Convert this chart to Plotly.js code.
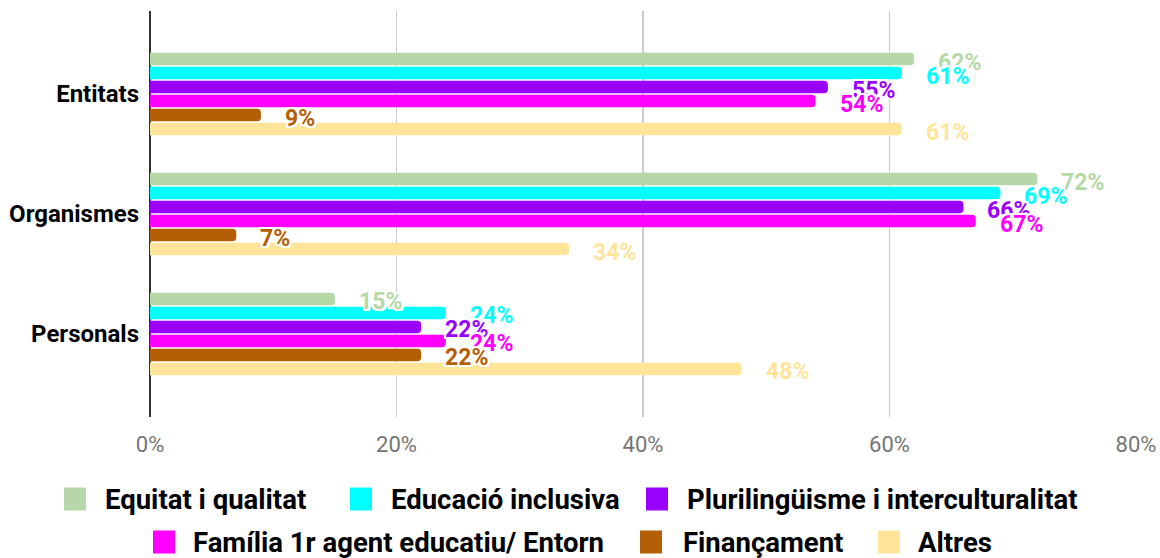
<!DOCTYPE html>
<html>
<head>
<meta charset="utf-8">
<script src="https://cdn.plot.ly/plotly-3.0.1.min.js"></script>
<style>
html,body{margin:0;padding:0;background:#fff;}
#chart{width:1160px;height:558px;}
</style>
</head>
<body>
<div id="chart"></div>
<script>
const categories = ['Entitats', 'Organismes', 'Personals'];
const seriesNames = ['Equitat i qualitat', 'Educació inclusiva', 'Plurilingüisme i interculturalitat',
  'Família 1r agent educatiu/ Entorn', 'Finançament', 'Altres'];
const equitat = [62, 72, 15];
const educacio = [61, 69, 24];
const plurilinguisme = [55, 66, 22];
const familia = [54, 67, 24];
const financament = [9, 7, 22];
const altres = [61, 34, 48];
const xTicks = [0, 20, 40, 60, 80];
const xTickLabels = ['0%', '20%', '40%', '60%', '80%'];

const seriesValues = [equitat, educacio, plurilinguisme, familia, financament, altres];
const colors = ['#b6d7a8', '#00ffff', '#9900ff', '#ff00ff', '#b45f06', '#ffe599'];

// plot area in pixels (for placing the hand-made legend)
const W = 1160, H = 558;
const M = {l: 150, r: 24, t: 11, b: 141};
const plotW = W - M.l - M.r, plotH = H - M.t - M.b;
const px2paperX = px => (px - M.l) / plotW;
const py2paperY = py => (H - M.b - py) / plotH;

const traces = seriesValues.map((vals, i) => ({
  type: 'bar',
  orientation: 'h',
  name: seriesNames[i],
  y: categories,
  x: vals,
  marker: {color: colors[i], cornerradius: 4},
  showlegend: false,
  hoverinfo: 'skip'
}));

const outline = '-2px -2px 0 #fff, 2px -2px 0 #fff, -2px 2px 0 #fff, 2px 2px 0 #fff, 0 2px 0 #fff, 0 -2px 0 #fff, 2px 0 0 #fff, -2px 0 0 #fff';
const slot = 14;
const annotations = [];
seriesValues.forEach((vals, i) => {
  vals.forEach((v, j) => {
    annotations.push({
      x: v, y: categories[j], xref: 'x', yref: 'y',
      text: v + '%', showarrow: false,
      xanchor: 'left', yanchor: 'middle',
      xshift: 22, yshift: -(i - 2.5) * slot - 3,
      font: {family: 'Roboto', size: 23, weight: 700, color: colors[i], shadow: outline}
    });
  });
});

// legend layout (pixel positions): swatch left, text left, row center
const legendPos = [
  {sw: 64, tx: 104, row: 0},
  {sw: 350, tx: 390, row: 0},
  {sw: 646, tx: 686, row: 0},
  {sw: 153, tx: 192, row: 1},
  {sw: 640, tx: 682, row: 1},
  {sw: 878, tx: 917, row: 1}
];
const rowY = [499, 542];
const shapes = [];
legendPos.forEach((p, i) => {
  const cy = rowY[p.row];
  shapes.push({
    type: 'rect', xref: 'paper', yref: 'paper',
    x0: px2paperX(p.sw), x1: px2paperX(p.sw + 22),
    y0: py2paperY(cy - 11.5), y1: py2paperY(cy + 11.5),
    fillcolor: colors[i], line: {width: 0}, layer: 'above'
  });
  annotations.push({
    x: px2paperX(p.tx), y: py2paperY(cy), xref: 'paper', yref: 'paper',
    text: seriesNames[i], showarrow: false, xanchor: 'left', yanchor: 'middle',
    borderpad: 0,
    font: {family: 'Roboto', size: 27.5, weight: 700, color: '#000'}
  });
});

const layout = {
  width: W, height: H,
  margin: M,
  paper_bgcolor: '#fff', plot_bgcolor: '#fff',
  barmode: 'group', bargap: 0.3, bargroupgap: 0.12,
  font: {family: 'Roboto'},
  showlegend: false,
  xaxis: {
    range: [0, 80], tickvals: xTicks, ticktext: xTickLabels,
    showgrid: true, gridcolor: '#cccccc', gridwidth: 1.5,
    zeroline: true, zerolinecolor: '#333333', zerolinewidth: 2,
    showline: false, ticks: '',
    tickfont: {family: 'Roboto', size: 22, color: '#757575'},
    ticklabelstandoff: 12, fixedrange: true
  },
  yaxis: {
    type: 'category', range: [2.692, -0.692],
    showgrid: false, zeroline: false, showline: false, ticks: '',
    tickfont: {family: 'Roboto', size: 24, weight: 700, color: '#000'},
    ticklabelstandoff: 10, fixedrange: true
  },
  annotations: annotations,
  shapes: shapes
};

Plotly.newPlot('chart', traces, layout, {displayModeBar: false, staticPlot: true});
</script>
</body>
</html>
